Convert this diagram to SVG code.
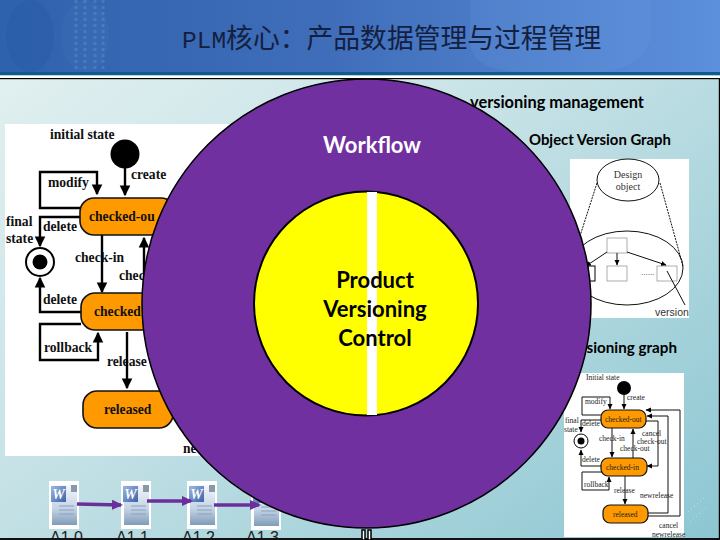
<svg xmlns="http://www.w3.org/2000/svg" width="720" height="540" viewBox="0 0 720 540">
<style>
.ser{font-family:"Liberation Serif",serif;font-weight:bold;fill:#111}
.s14{font-size:13.6px}
.s7{font-size:7.5px;font-weight:normal;fill:#222}
.lato{font-family:Lato,"Liberation Sans",sans-serif;font-weight:bold;fill:#000}
.ln{fill:none;stroke:#000;stroke-width:2.4}
.ls{fill:none;stroke:#111;stroke-width:1}
.st{fill:#ff9900;stroke:#111;stroke-width:1.6}
.sts{fill:#ff9900;stroke:#111;stroke-width:1.2}
.bx{fill:#fff;stroke:#999;stroke-width:.8}
.ar{fill:none;stroke:#6b2f9c;stroke-width:3.500}
.lab{font-family:"Liberation Sans",sans-serif;font-size:16px;fill:#222}
</style>
<defs>
<linearGradient id="hd" x1="0" y1="0" x2="1" y2="0"><stop offset="0" stop-color="#2f62ad"/><stop offset=".45" stop-color="#3f6db9"/><stop offset="1" stop-color="#5c8fdc"/></linearGradient>
<linearGradient id="bg" x1="0" y1="0" x2="1" y2="1"><stop offset="0" stop-color="#e6f2f2"/><stop offset=".45" stop-color="#c6e2e6"/><stop offset="1" stop-color="#8cc6d2"/></linearGradient>
<linearGradient id="pg" x1="0" y1="0" x2="0" y2="1"><stop offset="0" stop-color="#f4f7fb"/><stop offset=".6" stop-color="#c3d3e6"/><stop offset="1" stop-color="#7f9cb8"/></linearGradient>
<linearGradient id="wt" x1="0" y1="0" x2="1" y2="1"><stop offset="0" stop-color="#9db8e0"/><stop offset="1" stop-color="#3d62a8"/></linearGradient>
<marker id="ah" markerWidth="5" markerHeight="5" refX="4" refY="2.5" orient="auto"><path d="M0 .3L4.5 2.5L0 4.700z" fill="#000"/></marker>
<marker id="ap" markerUnits="userSpaceOnUse" markerWidth="12" markerHeight="12" refX="9" refY="6" orient="auto"><path d="M0 1L11 6L0 11z" fill="#6b2f9c"/></marker>
<marker id="as" markerWidth="6" markerHeight="6" refX="5" refY="3" orient="auto"><path d="M0 .5L5.5 3L0 5.5z" fill="#000"/></marker>
<g id="doc">
<rect x="0" y="0" width="30" height="48" fill="#fff"/>
<path d="M3 4H24L28 9V44H3z" fill="url(#pg)"/>
<path d="M22 4h6v7h-6z" fill="#8a99a8"/>
<path d="M10 25h15M10 29h15M10 33h15" stroke="#8aa0bc" stroke-width="1"/>
<rect x="2" y="5" width="15" height="16" fill="url(#wt)"/>
<text x="9.500" y="18" font-family="Liberation Serif,serif" font-weight="bold" font-style="italic" font-size="14" text-anchor="middle" fill="#fff">W</text>
</g>
</defs>

<g id="background">
<rect width="720" height="540" fill="url(#bg)"/>
<rect width="720" height="73" fill="url(#hd)"/>
<ellipse cx="30" cy="36" rx="24" ry="36" fill="#1f4f98" opacity=".2"/>
<ellipse cx="85" cy="36" rx="24" ry="36" fill="#5f8fd0" opacity=".1"/>
<path d="M470 0h180v40q-10 32-60 32h-65q-55 0-55-32z" fill="#7aa9ea" opacity=".14"/>
<path d="M76 0v72M85 0v72M95 0v72M103 0v72" stroke="#8fb4e4" stroke-width="3" stroke-dasharray="3 3" opacity=".22"/>
<rect y="72" width="720" height="3.500" fill="#0f5a8e"/>
<rect y="75.500" width="720" height="2.500" fill="#fff"/>
<rect y="78" width="720" height="1.200" fill="#000"/>
<rect x="718.800" y="78" width="1.200" height="461" fill="#000"/>
<path d="M690 522L708 506M688 512L704 498" stroke="#fff" stroke-width="1" stroke-dasharray="1 3" opacity=".5"/>
</g>

<text id="title" x="182" y="48" fill="#14203f" font-family="'Liberation Mono','Noto Sans CJK SC',monospace"><tspan font-size="24.500">PLM</tspan><tspan font-size="26.800">核心：产品数据管理与过程管理</tspan></text>

<g id="workflow-image-left">
<rect x="5" y="124" width="235" height="332" fill="#fff"/>
<circle cx="125" cy="154" r="14.500" fill="#000"/>
<text class="ser s14" x="50" y="139">initial state</text>
<text class="ser s14" x="131" y="179">create</text>
<text class="ser s14" x="48" y="187">modify</text>
<text class="ser s14" x="6" y="226">final</text>
<text class="ser s14" x="6" y="243">state</text>
<text class="ser s14" x="43" y="231">delete</text>
<text class="ser s14" x="75" y="262">check-in</text>
<text class="ser s14" x="119" y="280">chec</text>
<text class="ser s14" x="43" y="304">delete</text>
<text class="ser s14" x="44" y="352">rollback</text>
<text class="ser s14" x="107" y="366">release</text>
<text class="ser s14" x="183" y="453">ne</text>
<g class="connectors">
<path class="ln" d="M125 168V195" marker-end="url(#ah)"/>
<path class="ln" d="M81 208H40V172H97V194" marker-end="url(#ah)"/>
<path class="ln" d="M81 217H40V246" marker-end="url(#ah)"/>
<path class="ln" d="M102 235V292" marker-end="url(#ah)"/>
<path class="ln" d="M144 295V238" marker-end="url(#ah)"/>
<path class="ln" d="M81 312H40V278" marker-end="url(#ah)"/>
<path class="ln" d="M81 324H40V360H98V333" marker-end="url(#ah)"/>
<path class="ln" d="M127 332V388" marker-end="url(#ah)"/>
</g>
<rect class="st" x="80" y="198" width="95" height="37" rx="14"/>
<text class="ser s14" x="89" y="221">checked-ou</text>
<rect class="st" x="81" y="293" width="95" height="37" rx="14"/>
<text class="ser s14" x="94" y="316">checked</text>
<rect class="st" x="83" y="391" width="90" height="37" rx="14"/>
<text class="ser s14" x="104" y="414">released</text>
<circle cx="40" cy="262" r="14" fill="#fff" stroke="#000" stroke-width="2"/>
<circle cx="40" cy="262" r="7.500" fill="#000"/>
</g>

<g id="object-version-graph">
<text class="lato" x="470" y="107.500" font-size="16.400">versioning management</text>
<text class="lato" x="529" y="145" font-size="14.900">Object Version Graph</text>
<rect x="570" y="159" width="119" height="159" fill="#fff"/>
<ellipse class="ls" cx="628" cy="180" rx="31" ry="21" stroke-width=".8"/>
<text x="628" y="178" font-family="Liberation Serif,serif" font-size="10" fill="#333" text-anchor="middle">Design</text>
<text x="628" y="190" font-family="Liberation Serif,serif" font-size="10" fill="#333" text-anchor="middle">object</text>
<ellipse class="ls" cx="627" cy="268" rx="56" ry="37" stroke-width=".8"/>
<path class="ls" d="M597 183L580 236M660 183L683 266" stroke-dasharray="2 1" stroke-width=".7"/>
<rect class="bx" x="607" y="238" width="20" height="15"/>
<rect class="bx" x="607" y="266" width="20" height="15"/>
<rect class="bx" x="657" y="266" width="20" height="15"/>
<rect x="588" y="266" width="7" height="15" fill="#fff" stroke="#000" stroke-width="1"/>
<g class="connectors">
<path class="ls" d="M617 253V265" marker-end="url(#as)"/>
<path class="ls" d="M607 252L586 266" marker-end="url(#as)"/>
<path class="ls" d="M627 252L666 265" marker-end="url(#as)"/>
<path class="ls" d="M667 271L685 305" stroke-width=".7"/>
</g>
<text x="641" y="275" font-family="Liberation Sans,sans-serif" font-size="8" fill="#333">......</text>
<text x="655" y="316" font-family="Liberation Sans,sans-serif" font-size="10.500" fill="#333">version</text>
</g>

<g id="versioning-graph-small">
<text class="lato" x="677" y="353" font-size="15.200" text-anchor="end">sioning graph</text>
<rect x="564" y="373" width="120" height="164" fill="#fff"/>
<circle cx="624" cy="388" r="7" fill="#000"/>
<text class="ser s7" x="586" y="380">Initial state</text>
<text class="ser s7" x="627" y="400">create</text>
<text class="ser s7" x="585" y="404">modify</text>
<text class="ser s7" x="565" y="423">final</text>
<text class="ser s7" x="564" y="432">state</text>
<text class="ser s7" x="582" y="426">delete</text>
<text class="ser s7" x="599" y="441">check-in</text>
<text class="ser s7" x="642" y="436">cancel</text>
<text class="ser s7" x="637" y="444">check-out</text>
<text class="ser s7" x="620" y="451">check-out</text>
<text class="ser s7" x="582" y="462">delete</text>
<text class="ser s7" x="584" y="487">rollback</text>
<text class="ser s7" x="614" y="493">release</text>
<text class="ser s7" x="640" y="498">newrelease</text>
<text class="ser s7" x="659" y="528">cancel</text>
<text class="ser s7" x="652" y="537">newrelease</text>
<g class="connectors">
<path class="ls" d="M624 395V409" marker-end="url(#as)"/>
<path class="ls" d="M602 415H582V397H610V409" marker-end="url(#as)"/>
<path class="ls" d="M602 420H581V432" marker-end="url(#as)"/>
<path class="ls" d="M612 428V457" marker-end="url(#as)"/>
<path class="ls" d="M633 458V429" marker-end="url(#as)"/>
<path class="ls" d="M602 466H581V450" marker-end="url(#as)"/>
<path class="ls" d="M602 472H582V490H609V477" marker-end="url(#as)"/>
<path class="ls" d="M625 476V504" marker-end="url(#as)"/>
<path class="ls" d="M646 421H658V466H647" marker-end="url(#as)"/>
<path class="ls" d="M648 513H668V416H647" stroke="#555" marker-end="url(#as)"/>
<path class="ls" d="M647 516H680V410H646" marker-end="url(#as)"/>
</g>
<rect class="sts" x="601" y="410" width="45" height="18" rx="7"/>
<text class="ser s7" x="605" y="422">checked-out</text>
<rect class="sts" x="601" y="458" width="46" height="18" rx="7"/>
<text class="ser s7" x="606" y="469.500">checked-in</text>
<rect class="sts" x="603" y="505" width="45" height="18" rx="7"/>
<text class="ser s7" x="613" y="517">released</text>
<circle cx="581" cy="441" r="7" fill="#fff" stroke="#000" stroke-width="1"/>
<circle cx="581" cy="441" r="3.500" fill="#000"/>
</g>

<g id="version-chain">
<use href="#doc" x="49" y="481"/>
<use href="#doc" x="121" y="481"/>
<use href="#doc" x="187" y="481"/>
<use href="#doc" x="251" y="482"/>
<g class="connectors">
<path class="ar" d="M77 504L121 505" marker-end="url(#ap)"/>
<path class="ar" d="M147 501L191 501" marker-end="url(#ap)"/>
<path class="ar" d="M214 505L259 505" marker-end="url(#ap)"/>
</g>
<text class="lab" x="50" y="543">A1.0</text>
<text class="lab" x="116" y="543">A1.1</text>
<text class="lab" x="182" y="543">A1.2</text>
<text class="lab" x="246" y="543">A1.3</text>
<rect x="0" y="538" width="720" height="2" fill="#111"/>
<path d="M362 530h3v10h-3zM368 530h3v10h-3z" fill="#fff" stroke="#000" stroke-width="1.500"/>
</g>

<g id="workflow">
<circle cx="366.500" cy="303.500" r="224.500" fill="#70309f" stroke="#000" stroke-width="1.500"/>
<text x="372" y="153" font-family="Lato,sans-serif" font-weight="bold" font-size="22" fill="#fff" text-anchor="middle">Workflow</text>
</g>
<g id="product-versioning-control">
<circle cx="366" cy="303.500" r="112" fill="#ffff00" stroke="#000" stroke-width="2"/>
<rect x="367" y="192" width="10" height="223" fill="#fff"/>
<text class="lato" x="375" y="288" font-size="22" text-anchor="middle">Product</text>
<text class="lato" x="375" y="317" font-size="22" text-anchor="middle">Versioning</text>
<text class="lato" x="375" y="346" font-size="22" text-anchor="middle">Control</text>
</g>
</svg>
